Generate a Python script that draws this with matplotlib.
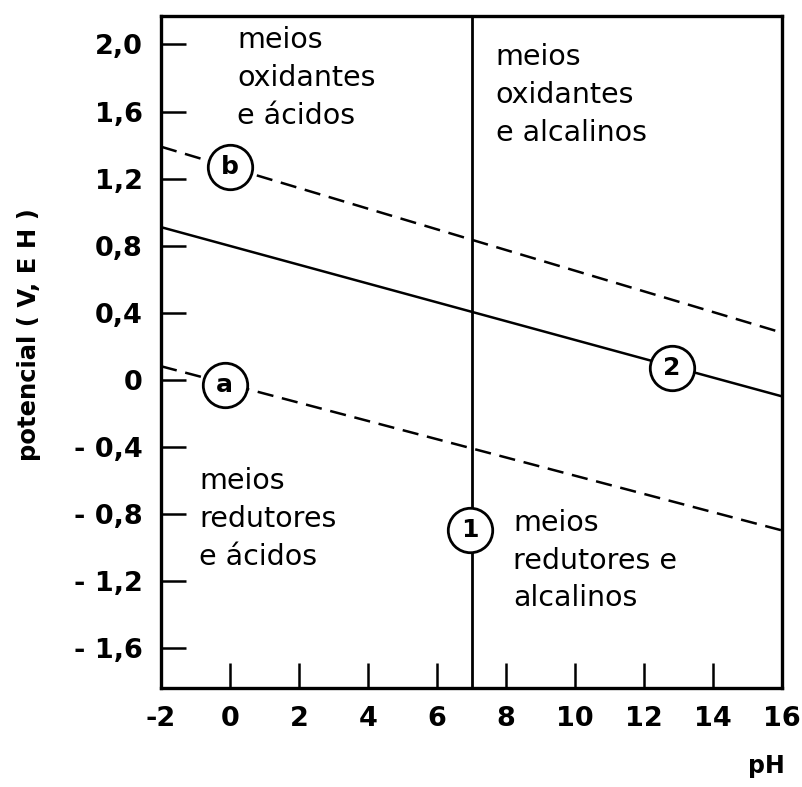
import numpy as np
import matplotlib
matplotlib.use("Agg")
import matplotlib.pyplot as plt

# pH range of the diagram
ph_ends = [-2, 16]
# potential (V) of each line at pH -2 and pH 16
line_b = [1.39, 0.28]     # dashed, upper
line_2 = [0.91, -0.10]    # solid
line_a = [0.08, -0.90]    # dashed, lower
neutral_ph = 7

# circled labels: (pH, E, text)
circ_pos_x = [0.0, -0.15, 12.8, 6.95]
circ_pos_y = [1.27, -0.03, 0.07, -0.90]
circ_txt = ["b", "a", "2", "1"]

xticks = [-2, 0, 2, 4, 6, 8, 10, 12, 14, 16]
xtick_labels = ["-2", "0", "2", "4", "6", "8", "10", "12", "14", "16"]
yticks = [2.0, 1.6, 1.2, 0.8, 0.4, 0.0, -0.4, -0.8, -1.2, -1.6]
ytick_labels = ["2,0", "1,6", "1,2", "0,8", "0,4", "0", "- 0,4", "- 0,8", "- 1,2", "- 1,6"]

regions = [
    (0.2, 2.11, "meios\noxidantes\ne ácidos"),
    (7.7, 2.01, "meios\noxidantes\ne alcalinos"),
    (-0.9, -0.52, "meios\nredutores\ne ácidos"),
    (8.2, -0.77, "meios\nredutores e\nalcalinos"),
]

fig = plt.figure(figsize=(8.03, 7.87), dpi=100)
ax = fig.add_axes([0.2005, 0.1258, 0.7735, 0.8539])
ax.set_xlim(-2, 16)
ax.set_ylim(-1.84, 2.17)

ax.plot(ph_ends, line_b, color="black", lw=1.8, dashes=(6.5, 3.5))
ax.plot(ph_ends, line_a, color="black", lw=1.8, dashes=(6.5, 3.5))
ax.plot(ph_ends, line_2, color="black", lw=1.8)
ax.axvline(neutral_ph, color="black", lw=2.0)

for x, y, t in zip(circ_pos_x, circ_pos_y, circ_txt):
    ax.plot(x, y, "o", ms=32, mfc="white", mec="black", mew=2.0, zorder=5)
    ax.text(x, y, t, ha="center", va="center", fontsize=18, fontweight="bold",
            zorder=6)

for x, y, t in regions:
    ax.text(x, y, t, ha="left", va="top", fontsize=20.5, linespacing=1.45)

ax.set_xticks(xticks)
ax.set_xticklabels(xtick_labels)
ax.set_yticks(yticks)
ax.set_yticklabels(ytick_labels)
ax.tick_params(direction="in", length=18, width=1.8, labelsize=19.5, pad=13)
for lab in ax.get_xticklabels() + ax.get_yticklabels():
    lab.set_fontweight("bold")

for s in ax.spines.values():
    s.set_linewidth(2.4)

fig.text(0.036, 0.575, "potencial ( V, E H )", rotation=90, ha="center",
         va="center", fontsize=17.5, fontweight="bold")
fig.text(0.955, 0.012, "pH", ha="center", va="bottom", fontsize=17,
         fontweight="bold")

fig.savefig("out.png", dpi=100)
